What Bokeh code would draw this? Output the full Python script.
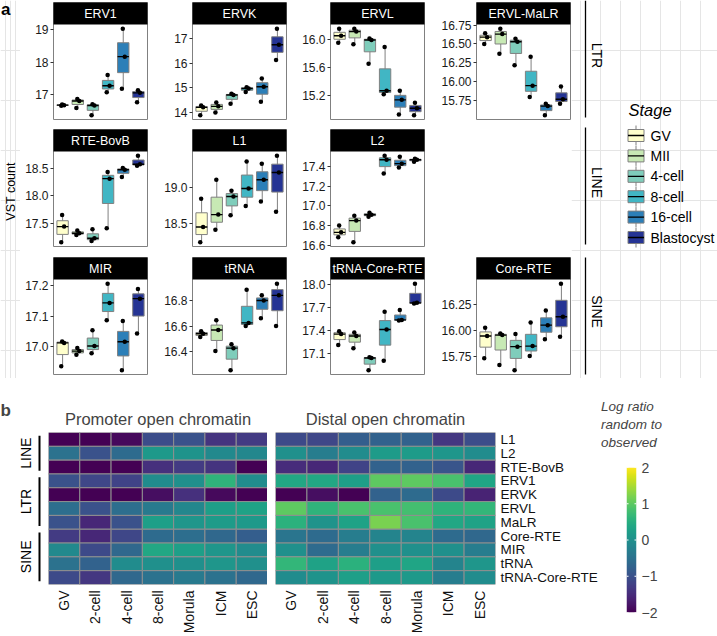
import math
import numpy as np
from bokeh.plotting import figure
from bokeh.models import (Range1d, FactorRange, FixedTicker, LinearColorMapper, Spacer,
                          ColumnDataSource)
from bokeh.layouts import row, column
from bokeh.transform import dodge, linear_cmap
from bokeh.palettes import Viridis256
from bokeh.core.properties import value
from bokeh.embed import file_html
from bokeh.resources import INLINE

FONT = "Liberation Sans"
GREY = "#808080"

# ---------------- data: panel a ----------------
stages = ["GV", "MII", "4-cell", "8-cell", "16-cell", "Blastocyst"]
stage_colors = ["#FFFFCC", "#C7E9B4", "#7FCDBB", "#41B6C4", "#2C7FB8", "#253494"]

erv1 = [[16.65, 16.67, 16.69], [16.58, 16.80, 16.86], [16.36, 16.66, 16.70],
        [17.07, 17.27, 17.60], [17.18, 18.17, 19.03], [16.76, 17.05, 17.13]]
ervk = [[13.88, 14.20, 14.27], [13.99, 14.24, 14.40], [14.35, 14.70, 14.75],
        [14.82, 14.97, 15.02], [14.43, 15.04, 15.37], [16.13, 16.75, 17.40]]
ervl = [[15.96, 16.06, 16.16], [15.94, 16.12, 16.16], [15.66, 16.00, 16.02],
        [15.22, 15.27, 15.90], [14.93, 15.14, 15.27], [14.92, 15.02, 15.10]]
ervl_malr = [[16.50, 16.59, 16.64], [16.37, 16.63, 16.70], [16.22, 16.53, 16.57],
             [15.80, 15.95, 16.33], [15.56, 15.68, 15.71], [15.71, 15.77, 15.94]]
rte_bovb = [[17.17, 17.45, 17.66], [17.30, 17.33, 17.38], [17.19, 17.24, 17.40],
            [17.42, 18.31, 18.43], [18.34, 18.47, 18.50], [18.54, 18.57, 18.72]]
l1 = [[18.24, 18.45, 18.84], [18.41, 18.62, 19.10], [18.61, 18.87, 18.95],
      [18.74, 18.98, 19.35], [18.80, 19.10, 19.32], [18.66, 19.20, 19.43]]
l2 = [[16.68, 16.73, 16.80], [16.63, 16.85, 16.90], [16.89, 16.91, 16.93],
      [17.33, 17.47, 17.51], [17.39, 17.43, 17.50], [17.45, 17.47, 17.48]]
mir = [[16.935, 17.012, 17.017], [16.973, 16.985, 16.995], [16.978, 17.002, 17.054],
       [17.087, 17.144, 17.207], [16.922, 17.016, 17.084], [17.043, 17.158, 17.190]]
trna = [[16.515, 16.54, 16.56], [16.406, 16.57, 16.646], [16.256, 16.428, 16.459],
        [16.60, 16.625, 16.884], [16.662, 16.80, 16.84], [16.60, 16.84, 16.93]]
trna_core_rte = [[17.206, 17.35, 17.386], [17.163, 17.325, 17.37], [16.876, 17.035, 17.047],
                 [17.00, 17.41, 17.644], [17.528, 17.536, 17.665], [17.75, 17.76, 18.01]]
core_rte = [[15.734, 15.946, 16.025], [15.67, 15.955, 15.97], [15.62, 15.845, 15.965],
            [15.756, 15.85, 16.075], [15.915, 16.05, 16.19], [15.94, 16.13, 16.445]]

ticks_erv1 = [17.0, 18.0, 19.0]; labels_erv1 = ["17", "18", "19"]
ticks_ervk = [14.0, 15.0, 16.0, 17.0]; labels_ervk = ["14", "15", "16", "17"]
ticks_ervl = [15.2, 15.6, 16.0]; labels_ervl = ["15.2", "15.6", "16.0"]
ticks_malr = [15.75, 16.0, 16.25, 16.5, 16.75]; labels_malr = ["15.75", "16.00", "16.25", "16.50", "16.75"]
ticks_rte = [17.5, 18.0, 18.5]; labels_rte = ["17.5", "18.0", "18.5"]
ticks_l1 = [18.5, 19.0]; labels_l1 = ["18.5", "19.0"]
ticks_l2 = [16.6, 16.8, 17.0, 17.2, 17.4]; labels_l2 = ["16.6", "16.8", "17.0", "17.2", "17.4"]
ticks_mir = [17.0, 17.1, 17.2]; labels_mir = ["17.0", "17.1", "17.2"]
ticks_trna = [16.4, 16.6, 16.8]; labels_trna = ["16.4", "16.6", "16.8"]
ticks_tcr = [17.1, 17.4, 17.7, 18.0]; labels_tcr = ["17.1", "17.4", "17.7", "18.0"]
ticks_core = [15.75, 16.0, 16.25]; labels_core = ["15.75", "16.00", "16.25"]

row_strip_labels = ["LTR", "LINE", "SINE"]

# ---------------- data: panel b ----------------
hm_rows = ["L1", "L2", "RTE-BovB", "ERV1", "ERVK", "ERVL", "MaLR",
           "Core-RTE", "MIR", "tRNA", "tRNA-Core-RTE"]
hm_groups = ["LINE", "LINE", "LINE", "LTR", "LTR", "LTR", "LTR",
             "SINE", "SINE", "SINE", "SINE"]
hm_cols = ["GV", "2-cell", "4-cell", "8-cell", "Morula", "ICM", "ESC"]
promoter = [
    [-2.0, -2.0, -1.9, -1.05, -1.0, -1.4, -1.3],
    [-0.5, -1.0, -0.6, 0.15, 0.05, -0.1, -0.15],
    [-2.0, -2.0, -2.0, -1.45, -1.3, -1.4, -2.0],
    [-1.0, -1.15, -1.2, -0.05, 0.0, 0.6, -0.05],
    [-2.0, -2.0, -2.0, -1.85, -1.45, -1.9, -2.0],
    [-0.55, -1.0, -0.55, -0.35, -0.15, 0.25, 0.3],
    [-1.0, -1.55, -1.0, 0.25, 0.1, 0.2, 0.15],
    [-1.3, -1.55, -1.15, -0.6, -0.55, -0.65, -0.8],
    [-0.1, -1.1, -0.65, 0.4, 0.25, 0.1, -0.05],
    [-0.5, -0.75, -0.05, 0.0, 0.0, 0.1, 0.0],
    [-1.1, -1.35, -0.65, -0.5, -0.35, -0.5, -0.65],
]
distal = [
    [-1.1, -1.15, -0.8, -0.75, -0.75, -1.35, -1.05],
    [0.0, -0.3, -0.05, 0.2, 0.2, 0.1, -0.05],
    [-1.5, -1.55, -1.2, -0.75, -0.75, -0.95, -1.55],
    [0.4, 0.4, 0.25, 1.0, 1.0, 0.85, 0.35],
    [-2.0, -1.85, -2.0, -0.75, -0.6, -1.1, -1.6],
    [1.0, 0.6, 0.85, 0.85, 0.8, 0.6, 0.65],
    [0.55, 0.05, 0.3, 1.2, 0.85, 0.4, 0.3],
    [-0.45, -0.6, -0.3, -0.2, -0.2, -0.6, -0.65],
    [0.0, -0.6, -0.3, 0.0, 0.0, 0.0, -0.3],
    [0.65, 0.3, 0.55, 0.25, 0.35, -0.2, 0.1],
    [-0.05, 0.05, 0.25, 0.15, 0.15, -0.3, -0.05],
]
cb_ticks = [-2, -1, 0, 1, 2]
cb_labels = ["\u22122", "\u22121", "0", "1", "2"]

# ---------------- layout constants ----------------
STRIP_H = 22
PANEL_H = 95
FRAME_H = STRIP_H + PANEL_H
PANEL_W = 94
JITTER = [-0.09, 0.1, -0.03]


def facet(name, vals, ticks, tick_labels, bl, height, bt, bb):
    v = np.array(vals, dtype=float)
    dmin, dmax = v.min(), v.max()
    pad = 0.05 * (dmax - dmin)
    lo, hi = dmin - pad, dmax + pad
    top = lo + (hi - lo) * FRAME_H / PANEL_H
    p = figure(width=bl + PANEL_W + 1, height=height, title=None, toolbar_location=None,
               output_backend="svg",
               x_range=FactorRange(factors=stages, range_padding=0.1,
                                   range_padding_units="absolute"),
               y_range=Range1d(lo, top), x_axis_location=None, y_axis_location="left",
               min_border_left=bl, min_border_right=1, min_border_top=bt,
               min_border_bottom=bb)
    p.extra_y_ranges = {"sy": Range1d(0, FRAME_H)}
    src = ColumnDataSource(dict(
        stage=stages, color=stage_colors,
        lo=v.min(axis=1), hi=v.max(axis=1),
        q1=np.percentile(v, 25, axis=1), med=np.median(v, axis=1),
        q3=np.percentile(v, 75, axis=1),
        y0=v[:, 0], y1=v[:, 1], y2=v[:, 2]))
    p.segment(x0="stage", y0="lo", x1="stage", y1="hi", source=src,
              line_color=GREY, line_width=1)
    p.vbar(x="stage", top="q3", bottom="q1", width=0.75, fill_color="color",
           line_color=GREY, line_width=1, source=src)
    p.segment(x0=dodge("stage", -0.375, range=p.x_range), y0="med",
              x1=dodge("stage", 0.375, range=p.x_range), y1="med",
              source=src, line_color="black", line_width=1.4)
    for j, off in enumerate(JITTER):
        p.scatter(x=dodge("stage", off, range=p.x_range), y="y%d" % j, source=src,
                  size=4.5, fill_color="black", line_color=None)
    mid = len(stages) // 2 - 1
    ssrc = ColumnDataSource(dict(l=[stages[0]], r=[stages[-1]], c=[stages[mid]],
                                 name=[name]))
    p.quad(left=dodge("l", -2, range=p.x_range), right=dodge("r", 2, range=p.x_range),
           bottom=PANEL_H, top=FRAME_H + 2, y_range_name="sy", source=ssrc,
           fill_color="black", line_color=None)
    p.text(x=dodge("c", 0.5, range=p.x_range), y=PANEL_H + STRIP_H / 2, text="name",
           source=ssrc, y_range_name="sy", text_color="white", text_font=value(FONT),
           text_font_size="12.5px", text_align="center", text_baseline="middle")
    ax = p.yaxis[0]
    ax.ticker = FixedTicker(ticks=ticks)
    ax.major_label_overrides = {t: l for t, l in zip(ticks, tick_labels)}
    ax.axis_line_color = None
    ax.major_tick_in = 0
    ax.major_tick_out = 3
    ax.major_tick_line_color = "#333333"
    ax.minor_tick_line_color = None
    ax.major_label_text_font = FONT
    ax.major_label_text_font_size = "12px"
    ax.major_label_text_color = "#1a1a1a"
    ax.major_label_standoff = 2
    p.xgrid.visible = False
    p.ygrid.visible = False
    p.outline_line_color = GREY
    p.outline_line_width = 1
    return p


def deco(width, height, xr, yr):
    p = figure(width=width, height=height, x_range=xr, y_range=yr, title=None,
               toolbar_location=None, output_backend="svg", x_axis_location=None,
               y_axis_location=None, min_border=0)
    p.outline_line_color = None
    return p


# rows: heights 129 / 128 / 121 ; column left borders 33 / 44 / 43 / 51
f_erv1 = facet("ERV1", erv1, ticks_erv1, labels_erv1, 33, 129, 2, 10)
f_ervk = facet("ERVK", ervk, ticks_ervk, labels_ervk, 44, 129, 2, 10)
f_ervl = facet("ERVL", ervl, ticks_ervl, labels_ervl, 43, 129, 2, 10)
f_malr = facet("ERVL-MaLR", ervl_malr, ticks_malr, labels_malr, 51, 129, 2, 10)
f_rte = facet("RTE-BovB", rte_bovb, ticks_rte, labels_rte, 33, 128, 0, 11)
f_l1 = facet("L1", l1, ticks_l1, labels_l1, 44, 128, 0, 11)
f_l2 = facet("L2", l2, ticks_l2, labels_l2, 43, 128, 0, 11)
f_mir = facet("MIR", mir, ticks_mir, labels_mir, 33, 121, 0, 4)
f_trna = facet("tRNA", trna, ticks_trna, labels_trna, 44, 121, 0, 4)
f_tcr = facet("tRNA-Core-RTE", trna_core_rte, ticks_tcr, labels_tcr, 43, 121, 0, 4)
f_core = facet("Core-RTE", core_rte, ticks_core, labels_core, 51, 121, 0, 4)

grid = column(row(f_erv1, f_ervk, f_ervl, f_malr),
              row(f_rte, f_l1, f_l2, Spacer(width=146, height=128)),
              row(f_mir, f_trna, f_tcr, f_core))

# left strip of panel a (page pixel coordinates, y downward -> negated)
lfig = deco(20, 378, Range1d(0, 20), Range1d(-378, 0))
lfig.text(x=[0.5], y=[-9], text=["a"], text_font=value(FONT), text_font_size="17px",
          text_font_style="bold", text_align="left", text_baseline="middle")
lfig.text(x=[10], y=[-191], text=["VST count"], angle=math.pi / 2, text_font=value(FONT),
          text_font_size="12.5px", text_align="center", text_baseline="middle")

# right side of panel a: row strips + legend
rfig = deco(146, 378, Range1d(571, 717), Range1d(-378, 0))
row_spans = [(0, 117), (127, 244), (257, 374)]
row_label_y = [55, 182, 311]
rfig.segment(x0=[585] * 3, x1=[585] * 3, y0=[-a for a, b in row_spans],
             y1=[-b for a, b in row_spans], line_color="black", line_width=1.3)
rfig.text(x=[596] * 3, y=[-y for y in row_label_y],
          text=row_strip_labels, angle=-math.pi / 2, text_font=value(FONT),
          text_font_size="14px", text_align="center", text_baseline="middle")
rfig.text(x=[628], y=[-109], text=["Stage"], text_font=value(FONT), text_font_size="16.5px",
          text_font_style="italic", text_align="left", text_baseline="middle")
key_y = [-(135 + 20.4 * i) for i in range(len(stages))]
lsrc = ColumnDataSource(dict(y=key_y, color=stage_colors, label=stages,
                             wt=[y + 10 for y in key_y], wb=[y - 10 for y in key_y],
                             bt=[y + 6 for y in key_y], bb=[y - 6 for y in key_y]))
rfig.segment(x0=635.5, x1=635.5, y0="wb", y1="wt", source=lsrc, line_color=GREY, line_width=1)
rfig.quad(left=627.5, right=643.5, bottom="bb", top="bt", fill_color="color",
          line_color=GREY, line_width=1, source=lsrc)
rfig.segment(x0=627.5, x1=643.5, y0="y", y1="y", source=lsrc, line_color="black",
             line_width=1.3)
rfig.text(x=650, y="y", text="label", source=lsrc, text_font=value(FONT),
          text_font_size="14px", text_align="left", text_baseline="middle")

panelA = row(lfig, grid, rfig)

# ---------------- panel b ----------------
ry = FactorRange(factors=list(reversed(hm_rows)))
HB_TOP, HB_BOT, HB_H = 54, 50, 258


def heat(vals, title, width, bl, br, yloc):
    p = figure(width=width, height=HB_H, x_range=FactorRange(factors=hm_cols), y_range=ry,
               title=title, toolbar_location=None, output_backend="svg",
               x_axis_location="below", y_axis_location=yloc,
               min_border_left=bl, min_border_right=br, min_border_top=HB_TOP,
               min_border_bottom=HB_BOT)
    src = ColumnDataSource(dict(
        col=[c for r in hm_rows for c in hm_cols],
        row=[r for r in hm_rows for c in hm_cols],
        val=[vals[i][j] for i in range(len(hm_rows)) for j in range(len(hm_cols))]))
    p.rect(x="col", y="row", width=1, height=1, source=src,
           fill_color=linear_cmap("val", Viridis256, -2, 2), line_color="#8f8f8f",
           line_width=1)
    p.outline_line_color = None
    p.grid.visible = False
    p.title.align = "center"
    p.title.text_font = FONT
    p.title.text_font_style = "normal"
    p.title.text_font_size = "16.5px"
    p.title.standoff = 10
    for ax in p.axis:
        ax.axis_line_color = None
        ax.major_tick_in = 0
        ax.major_tick_out = 0
        ax.major_label_text_font = FONT
        ax.major_label_text_color = "#111111"
    p.xaxis.major_label_text_font_size = "14px"
    p.xaxis.major_label_orientation = math.pi / 2
    p.xaxis.major_label_standoff = 6
    p.yaxis.major_label_text_font_size = "13.5px"
    p.yaxis.major_label_standoff = 5
    return p


lheat = heat(promoter, "Promoter open chromatin", 219, 0, 0, None)
rheat = heat(distal, "Distal open chromatin", 333, 8, 104, "right")

gfig = figure(width=48, height=HB_H, x_range=Range1d(0, 48), y_range=ry, title="b",
              toolbar_location=None, output_backend="svg", x_axis_location=None,
              y_axis_location=None, min_border_left=0, min_border_right=0,
              min_border_top=HB_TOP, min_border_bottom=HB_BOT)
gfig.outline_line_color = None
gfig.grid.visible = False
gfig.title.align = "left"
gfig.title.text_font = FONT
gfig.title.text_font_size = "17px"
gfig.title.text_font_style = "bold"
gfig.title.standoff = 25
groups = []
for g in hm_groups:
    if g not in groups:
        groups.append(g)
firsts, lasts = [], []
for g in groups:
    idx = [i for i, gg in enumerate(hm_groups) if gg == g]
    firsts.append(hm_rows[idx[0]])
    lasts.append(hm_rows[idx[-1]])
    midi = (idx[0] + idx[-1]) / 2
    if midi == int(midi):
        r, off = hm_rows[int(midi)], 0.0
    else:
        r, off = hm_rows[int(math.floor(midi))], -0.5
    tsrc = ColumnDataSource(dict(r=[r], name=[g]))
    gfig.text(x=25, y=dodge("r", off, range=ry), text="name", source=tsrc,
              angle=math.pi / 2, text_font=value(FONT), text_font_size="14px",
              text_align="center", text_baseline="middle")
gsrc = ColumnDataSource(dict(first=firsts, last=lasts))
gfig.segment(x0=39, x1=39, y0=dodge("first", 0.27, range=ry),
             y1=dodge("last", -0.27, range=ry), source=gsrc, line_color="black",
             line_width=2)

cbfig = figure(width=76, height=HB_H, x_range=Range1d(0, 1), y_range=Range1d(-2, 2),
               title="Log ratio\nrandom to\nobserved", toolbar_location=None,
               output_backend="svg", x_axis_location=None, y_axis_location="right",
               min_border_left=26, min_border_right=40, min_border_top=89,
               min_border_bottom=24)
mapper = LinearColorMapper(palette=Viridis256, low=-2, high=2)
grad = np.linspace(-2, 2, 256).reshape(-1, 1)
cbfig.image(image=[grad], x=0, y=-2, dw=1, dh=4, color_mapper=mapper)
cbfig.segment(x0=0, x1=0.2, y0=cb_ticks, y1=cb_ticks, line_color="white", line_width=1)
cbfig.segment(x0=0.8, x1=1, y0=cb_ticks, y1=cb_ticks, line_color="white", line_width=1)
cbfig.outline_line_color = None
cbfig.grid.visible = False
cax = cbfig.yaxis[0]
cax.ticker = FixedTicker(ticks=cb_ticks)
cax.major_label_overrides = {t: l for t, l in zip(cb_ticks, cb_labels)}
cax.axis_line_color = None
cax.major_tick_in = 0
cax.major_tick_out = 0
cax.minor_tick_line_color = None
cax.major_label_standoff = 5
cax.major_label_text_font = FONT
cax.major_label_text_font_size = "14px"
cbfig.title.align = "center"
cbfig.title.text_font = FONT
cbfig.title.text_font_style = "italic"
cbfig.title.text_font_size = "13.5px"
cbfig.title.text_line_height = 1.2
cbfig.title.standoff = 35

panelB = row(gfig, lheat, rheat, column(cbfig))

root = column(panelA, panelB)
open("out.html", "w").write(file_html(root, INLINE))
